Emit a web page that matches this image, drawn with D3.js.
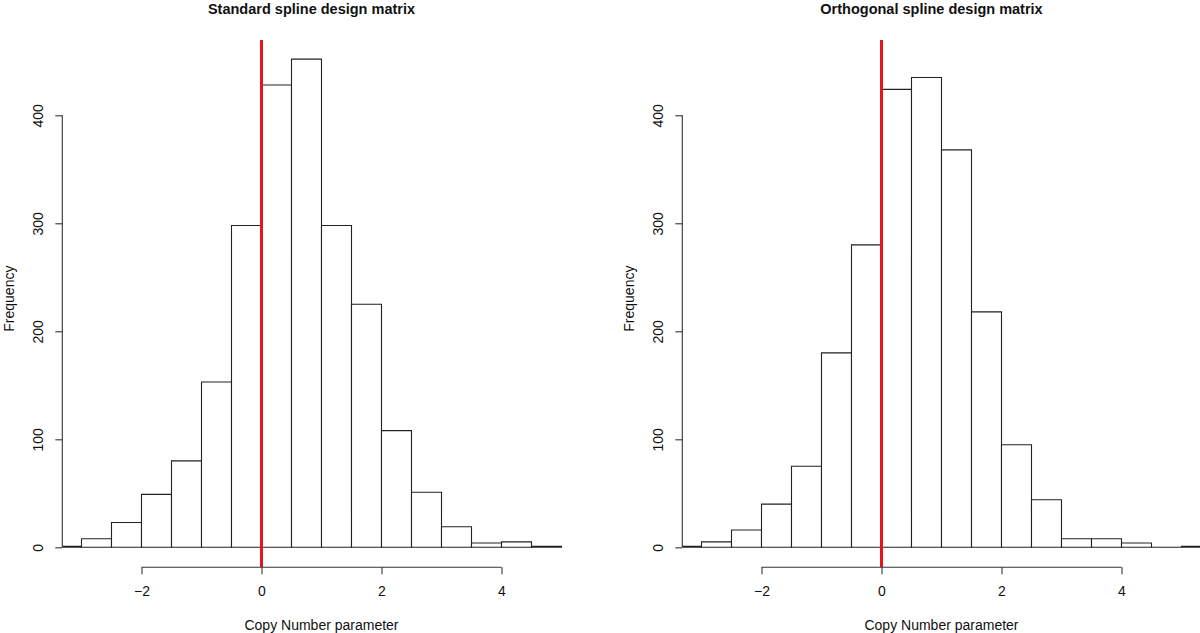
<!DOCTYPE html>
<html>
<head>
<meta charset="utf-8">
<script src="https://cdn.jsdelivr.net/npm/d3@7"></script>
<style>
  html, body { margin: 0; padding: 0; background: #fff; }
  svg { display: block; font-family: "Liberation Sans", Arial, Helvetica, sans-serif; }
</style>
</head>
<body>
<svg id="chart" width="1200" height="633"></svg>
<script>
// ---- data ----
const panelTitles = ["Standard spline design matrix", "Orthogonal spline design matrix"];
const binWidth = 0.5;
const standardBins = [-3.5, -3, -2.5, -2, -1.5, -1, -0.5, 0, 0.5, 1, 1.5, 2, 2.5, 3, 3.5, 4, 4.5];
const standardCounts = [1, 8, 23, 49, 80, 153, 298, 428, 452, 298, 225, 108, 51, 19, 4, 5, 1];
const orthogonalBins = [-3.5, -3, -2.5, -2, -1.5, -1, -0.5, 0, 0.5, 1, 1.5, 2, 2.5, 3, 3.5, 4, 4.5, 5];
const orthogonalCounts = [1, 5, 16, 40, 75, 180, 280, 424, 435, 368, 218, 95, 44, 8, 8, 4, 0, 1];
const xTicks = [-2, 0, 2, 4];
const yTicks = [0, 100, 200, 300, 400];
const refLine = 0;
const xLabel = "Copy Number parameter";
const yLabel = "Frequency";

const panels = [
  { title: panelTitles[0], bins: standardBins, counts: standardCounts, offset: 0 },
  { title: panelTitles[1], bins: orthogonalBins, counts: orthogonalCounts, offset: 620 }
];

const svg = d3.select("#chart");
const plotTop = 40, plotBottom = 567.3;
const FONT = "'Liberation Sans', Arial, sans-serif";

panels.forEach((p, i) => {
  const left = 62.3 + p.offset;
  const right = left + 518.4;
  const x = d3.scaleLinear().domain([-3.32, 5.32]).range([left, right]);
  const y = d3.scaleLinear().domain([-18.5, 469.7]).range([plotBottom, plotTop]);

  const g = svg.append("g");
  const clipId = "clip" + i;
  svg.append("clipPath").attr("id", clipId)
    .append("rect")
    .attr("x", left).attr("y", plotTop)
    .attr("width", right - left).attr("height", plotBottom - plotTop);

  const data = p.bins.map((b, k) => ({ x0: b, x1: b + binWidth, n: p.counts[k] }));

  const bars = g.append("g").attr("clip-path", `url(#${clipId})`);
  bars.selectAll("path.bar").data(data).join("path")
    .attr("class", "bar")
    .attr("d", d => `M${x(d.x0)},${y(0)}V${y(d.n)}H${x(d.x1)}V${y(0)}Z`)
    .attr("fill", "#fff")
    .attr("stroke", "#222")
    .attr("stroke-width", 1.1);

  // reference line
  bars.append("line")
    .attr("x1", x(refLine)).attr("x2", x(refLine))
    .attr("y1", plotTop).attr("y2", plotBottom)
    .attr("stroke", "#e8141c").attr("stroke-width", 3);

  // x axis
  const xAxis = d3.axisBottom(x).tickValues(xTicks).tickSize(7).tickPadding(12)
    .tickFormat(d => d < 0 ? "\u2212" + Math.abs(d) : String(d));
  const gx = g.append("g").attr("transform", `translate(0,${plotBottom})`).call(xAxis);
  gx.select(".domain").attr("d", `M${x(xTicks[0])},0H${x(xTicks[xTicks.length - 1])}`);
  gx.selectAll("line, path").attr("stroke", "#333").attr("stroke-width", 1.1);
  gx.selectAll("text").attr("font-size", 14).attr("fill", "#111").attr("font-family", FONT);

  // y axis
  const yAxis = d3.axisLeft(y).tickValues(yTicks).tickSize(7).tickPadding(0).tickFormat(d3.format("d"));
  const gy = g.append("g").attr("transform", `translate(${left},0)`).call(yAxis);
  gy.select(".domain").attr("d", `M0,${y(yTicks[0])}V${y(yTicks[yTicks.length - 1])}`);
  gy.selectAll("line, path").attr("stroke", "#333").attr("stroke-width", 1.1);
  gy.selectAll(".tick text")
    .attr("font-size", 14).attr("fill", "#111").attr("font-family", FONT)
    .attr("x", null).attr("dy", null)
    .attr("text-anchor", "middle")
    .attr("transform", "translate(-19,0) rotate(-90)");

  // titles and labels
  const cx = (left + right) / 2;
  g.append("text").attr("x", cx - 10).attr("y", 14)
    .attr("text-anchor", "middle").attr("font-weight", "bold").attr("font-size", 14.5)
    .attr("fill", "#111").text(p.title);
  g.append("text").attr("x", cx).attr("y", 630)
    .attr("text-anchor", "middle").attr("font-size", 14).attr("fill", "#111").text(xLabel);
  g.append("text")
    .attr("transform", `translate(${left - 48.5},${(plotTop + plotBottom) / 2 - 5}) rotate(-90)`)
    .attr("text-anchor", "middle").attr("font-size", 14).attr("fill", "#111").text(yLabel);
});
</script>
</body>
</html>
